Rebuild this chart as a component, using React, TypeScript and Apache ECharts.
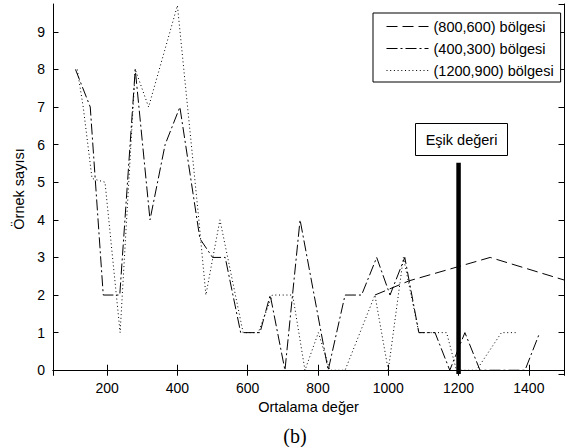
import React, { useEffect, useRef } from "react";
import * as echarts from "echarts";

// ---- Data ----
const seriesNames = ["(800,600) bölgesi", "(400,300) bölgesi", "(1200,900) bölgesi"];

// (800,600) bölgesi — dashed
const dashedData: number[][] = [
  [962, 2.0], [1060, 2.38], [1290, 3.0], [1500, 2.4],
];

// (400,300) bölgesi — dash-dot
const dashDotData: number[][] = [
  [110, 8], [152, 7], [189, 2], [236, 2], [280, 8], [322, 4], [365, 6], [407, 7],
  [464, 3.5], [500, 3], [536, 3], [580, 1], [635, 1], [664, 2], [706, 0], [749, 4],
  [829, 0], [877, 2], [924, 2], [967, 3], [1005, 2], [1047, 3], [1087, 1], [1133, 1],
  [1175, 0], [1218, 1], [1261, 0], [1389, 0], [1431, 1],
];

// (1200,900) bölgesi — dotted
const dottedData: number[][] = [
  [115, 8], [132, 7], [157, 5.1], [194, 5], [237, 1], [280, 8], [318, 7], [400, 9.7],
  [460, 4.1], [481, 2], [521, 4], [587, 1], [630, 1], [670, 2], [728, 2], [763, 0],
  [801, 1], [834, 0], [877, 0], [962, 2], [1000, 0], [1043, 3], [1087, 1], [1166, 1],
  [1194, 0], [1251, 0], [1322, 1], [1365, 1],
];

// Eşik değeri (threshold) vertical bar
const thresholdData: number[][] = [[1200, -0.1], [1200, 5.52]];
const thresholdLabel = "Eşik değeri";

const xRange = [46, 1500];
const yRange = [-0.1, 9.74];
const xStep = 200;
const yStep = 1;
const xTitle = "Ortalama değer";
const yTitle = "Örnek sayısı";
const caption = "(b)";

const FONT = "'Liberation Sans', Arial, Helvetica, sans-serif";

export default function App() {
  const ref = useRef<HTMLDivElement>(null);

  useEffect(() => {
    if (!ref.current) return;
    const chart = echarts.init(ref.current, undefined, { renderer: "svg" });

    const baseAxisLine = { show: true, lineStyle: { color: "#000", width: 1 } };
    const tick = { show: true, inside: true, length: 5.5, lineStyle: { color: "#000", width: 1 } };

    const lineBase = {
      type: "line" as const,
      symbol: "none",
      showSymbol: false,
      silent: true,
      z: 3,
      itemStyle: { color: "#000" },
    };

    chart.setOption({
      animation: false,
      backgroundColor: "#fff",
      grid: { left: 53, top: 4, width: 511, height: 370, containLabel: false },
      xAxis: [
        {
          type: "value",
          position: "bottom",
          min: xRange[0],
          max: xRange[1],
          minInterval: xStep,
          maxInterval: xStep,
          splitNumber: 7,
          axisLine: baseAxisLine,
          axisTick: tick,
          splitLine: { show: false },
          axisLabel: {
            color: "#000",
            fontFamily: FONT,
            fontSize: 14,
            margin: 7,
            showMinLabel: false,
            showMaxLabel: false,
            formatter: (v: number) => String(v),
          },
          name: xTitle,
          nameLocation: "middle",
          nameGap: 24,
          nameTextStyle: { color: "#000", fontFamily: FONT, fontSize: 14.5 },
        },
        {
          type: "value",
          position: "top",
          min: xRange[0],
          max: xRange[1],
          minInterval: xStep,
          maxInterval: xStep,
          splitNumber: 7,
          axisLine: baseAxisLine,
          axisTick: tick,
          splitLine: { show: false },
          axisLabel: { show: false },
        },
      ],
      yAxis: [
        {
          type: "value",
          position: "left",
          min: yRange[0],
          max: yRange[1],
          minInterval: yStep,
          maxInterval: yStep,
          splitNumber: 10,
          axisLine: baseAxisLine,
          axisTick: tick,
          splitLine: { show: false },
          axisLabel: {
            color: "#000",
            fontFamily: FONT,
            fontSize: 14,
            margin: 8,
            showMinLabel: false,
            showMaxLabel: false,
            formatter: (v: number) => String(v),
          },
          name: yTitle,
          nameLocation: "middle",
          nameGap: 21,
          nameTextStyle: { color: "#000", fontFamily: FONT, fontSize: 14.5 },
        },
        {
          type: "value",
          position: "right",
          min: yRange[0],
          max: yRange[1],
          minInterval: yStep,
          maxInterval: yStep,
          splitNumber: 10,
          axisLine: baseAxisLine,
          axisTick: tick,
          splitLine: { show: false },
          axisLabel: { show: false },
        },
      ],
      legend: {
        data: seriesNames,
        orient: "vertical",
        left: 373,
        top: 13,
        padding: [6, 7, 4, 13],
        itemGap: 7,
        itemWidth: 42,
        itemHeight: 14,
        backgroundColor: "#fff",
        borderColor: "#000",
        borderWidth: 1,
        borderRadius: 0,
        itemStyle: { opacity: 0, borderWidth: 0 },
        lineStyle: { width: 1, color: "#000" },
        textStyle: { color: "#000", fontFamily: FONT, fontSize: 14.5 },
        selectedMode: false,
      },
      graphic: [
        {
          type: "rect",
          shape: { x: 415.5, y: 123.5, width: 92, height: 32 },
          style: { fill: "#fff", stroke: "#000", lineWidth: 1 },
          z: 10,
        },
        {
          type: "text",
          x: 461.5,
          y: 139.5,
          style: {
            text: thresholdLabel,
            fill: "#000",
            font: `14.5px ${FONT}`,
            align: "center",
            verticalAlign: "middle",
          },
          z: 11,
        },
        {
          type: "text",
          x: 295,
          y: 435.5,
          style: {
            text: caption,
            fill: "#000",
            font: "20px 'Liberation Serif', 'Times New Roman', serif",
            align: "center",
            verticalAlign: "middle",
          },
        },
      ],
      series: [
        {
          ...lineBase,
          name: seriesNames[0],
          data: dashedData,
          lineStyle: { color: "#000", width: 1, type: [11, 5] },
        },
        {
          ...lineBase,
          name: seriesNames[1],
          data: dashDotData,
          lineStyle: { color: "#000", width: 1, type: [11, 3, 2, 3] },
        },
        {
          ...lineBase,
          name: seriesNames[2],
          data: dottedData,
          lineStyle: { color: "#000", width: 1, type: [1, 2.7] },
        },
        {
          ...lineBase,
          name: "threshold",
          data: thresholdData,
          lineStyle: { color: "#000", width: 4.5, type: "solid" },
          z: 4,
        },
      ],
    });

    return () => chart.dispose();
  }, []);

  return (
    <div
      ref={ref}
      style={{ position: "absolute", left: 0, top: 0, width: 574, height: 447, background: "#fff" }}
    />
  );
}
